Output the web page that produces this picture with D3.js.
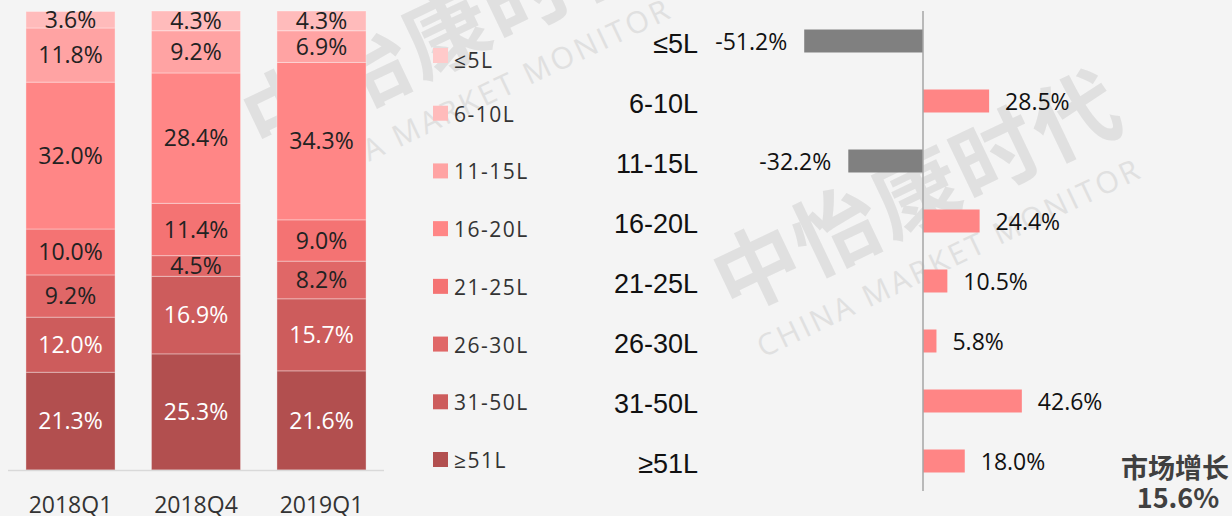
<!DOCTYPE html>
<html>
<head>
  <meta charset="utf-8">
  <title>Segment share and growth</title>
  <script src="https://cdn.jsdelivr.net/npm/d3@7"></script>
  <style>
    body { margin: 0; background: #f4f4f4; }
    svg { display: block; }
    .pct { font: 23px "Open Sans", "Noto Sans CJK SC", sans-serif; }
    .legend text { font: 21px "Open Sans", "Noto Sans CJK SC", sans-serif; fill: #333; letter-spacing: 1.5px; }
    .cat text { font: 27px "Liberation Sans", Arial, sans-serif; fill: #111; }
    .quarter { font: 23px "Open Sans", sans-serif; fill: #333; }
    .total { font: bold 27px "Noto Sans CJK SC", sans-serif; fill: #404040; }
    .wm { font-family: "Noto Sans CJK SC", sans-serif; font-weight: bold; fill: #e0e0e0; }
    .wm-en { font: 30px "Open Sans", sans-serif; fill: #e0e0e0; letter-spacing: 3px; }
  </style>
</head>
<body>
<script>
  var quarters = ["2018Q1", "2018Q4", "2019Q1"];
  var segments = ["≤5L", "6-10L", "11-15L", "16-20L", "21-25L", "26-30L", "31-50L", "≥51L"];
  // share of each segment, top (≤5L) to bottom (≥51L)
  var share2018Q1 = [0, 3.6, 11.8, 32.0, 10.0, 9.2, 12.0, 21.3];
  var share2018Q4 = [0, 4.3, 9.2, 28.4, 11.4, 4.5, 16.9, 25.3];
  var share2019Q1 = [0, 4.3, 6.9, 34.3, 9.0, 8.2, 15.7, 21.6];
  var growth = [-51.2, 28.5, -32.2, 24.4, 10.5, 5.8, 42.6, 18.0];
  var marketGrowth = "15.6%";
  var colors = ["#FFCACA", "#FFBBBB", "#FFA3A3", "#FF8686", "#F47373", "#E06767", "#CD5C5C", "#B24F4F"];

  var W = 1232, H = 516;
  var svg = d3.select("body").append("svg")
      .attr("width", W)
      .attr("height", H);

  var fmt = function (v) { return d3.format(".1f")(v).replace("−", "-") + "%"; };

  // watermark
  function watermark(dx, dy) {
    var g = svg.append("g").attr("transform", "translate(" + dx + "," + dy + ") rotate(-25.5)");
    g.append("text").attr("class", "wm").attr("font-size", 86).attr("x", -40).attr("y", 30)
        .attr("letter-spacing", 2).text("中怡康时代");
    g.append("text").attr("class", "wm-en").attr("x", -30).attr("y", 82).text("CHINA MARKET MONITOR");
  }
  watermark(755, 271);
  watermark(285, 111);

  // ---- stacked share bars ----
  var rows = quarters.map(function (q, i) {
    var vals = [share2018Q1, share2018Q4, share2019Q1][i];
    var r = {quarter: q};
    segments.forEach(function (s, j) { r[s] = vals[j]; });
    return r;
  });

  var x = d3.scaleBand()
      .domain(quarters)
      .range([8, 384])
      .paddingInner(0.29)
      .paddingOuter(0.143);

  var y = d3.scaleLinear()
      .domain([0, 100])
      .range([470, 11]);

  var color = d3.scaleOrdinal().domain(segments).range(colors);

  var stack = d3.stack().keys(segments.slice().reverse());
  var series = stack(rows);

  var layers = svg.append("g").attr("class", "stack")
    .selectAll("g")
    .data(series)
    .join("g")
      .attr("fill", function (d) { return color(d.key); });

  layers.selectAll("rect")
    .data(function (d) { return d.map(function (p) { p.key = d.key; return p; }); })
    .join("rect")
      .attr("x", function (d) { return x(d.data.quarter); })
      .attr("y", function (d) { return y(d[1]); })
      .attr("width", x.bandwidth())
      .attr("height", function (d) { return y(d[0]) - y(d[1]); })
      .attr("stroke", "rgba(255,255,255,0.35)")
      .attr("stroke-width", 1);

  layers.selectAll("text")
    .data(function (d) { return d.filter(function (p) { return p[1] - p[0] > 0; }); })
    .join("text")
      .attr("class", "pct")
      .attr("x", function (d) { return x(d.data.quarter) + x.bandwidth() / 2; })
      .attr("y", function (d) { return (y(d[0]) + y(d[1])) / 2; })
      .attr("dy", "0.36em")
      .attr("text-anchor", "middle")
      .attr("fill", function (d) { return (d.key === "31-50L" || d.key === "≥51L") ? "#fff" : "#222"; })
      .text(function (d) { return fmt(d.data[d.key]); });

  svg.append("line")
      .attr("x1", 8).attr("x2", 384)
      .attr("y1", y(0) + 0.5).attr("y2", y(0) + 0.5)
      .attr("stroke", "#d9d9d9")
      .attr("stroke-width", 1.5);

  svg.append("g").selectAll("text")
    .data(quarters)
    .join("text")
      .attr("class", "quarter")
      .attr("x", function (d) { return x(d) + x.bandwidth() / 2; })
      .attr("y", 513)
      .attr("text-anchor", "middle")
      .text(function (d) { return d; });

  // ---- legend ----
  var legendY = d3.scalePoint().domain(segments).range([48, 452]);
  var legend = svg.append("g").attr("class", "legend")
    .selectAll("g")
    .data(segments)
    .join("g")
      .attr("transform", function (d) { return "translate(433," + legendY(d) + ")"; });
  legend.append("rect")
      .attr("width", 15).attr("height", 15)
      .attr("fill", function (d) { return color(d); });
  legend.append("text")
      .attr("x", 21)
      .attr("y", function (d, i) { return i === 0 ? 20 : 16; })
      .text(function (d) { return d; });

  // ---- growth bars ----
  var gx = d3.scaleLinear()
      .domain([-60, 60])
      .range([923 - 139.2, 923 + 139.2]);

  var gy = d3.scaleBand()
      .domain(segments)
      .range([11, 491])
      .paddingInner(0.617)
      .paddingOuter(0.3085);

  var rowC = function (d) { return gy(d) + gy.bandwidth() / 2; };

  svg.append("g").attr("class", "cat")
    .selectAll("text")
    .data(segments)
    .join("text")
      .attr("x", 698)
      .attr("y", function (d) { return rowC(d) + 2; })
      .attr("dy", "0.36em")
      .attr("text-anchor", "end")
      .text(function (d) { return d; });

  var gdata = segments.map(function (s, i) { return {seg: s, v: growth[i]}; });

  svg.append("g").selectAll("rect")
    .data(gdata)
    .join("rect")
      .attr("x", function (d) { return gx(Math.min(0, d.v)); })
      .attr("y", function (d) { return gy(d.seg); })
      .attr("width", function (d) { return Math.abs(gx(d.v) - gx(0)); })
      .attr("height", gy.bandwidth())
      .attr("fill", function (d) { return d.v < 0 ? "#808080" : "#FF8585"; });

  svg.append("g").selectAll("text")
    .data(gdata)
    .join("text")
      .attr("class", "pct")
      .attr("fill", "#111")
      .attr("x", function (d) { return d.v < 0 ? gx(d.v) - 17 : gx(d.v) + 16; })
      .attr("y", function (d) { return rowC(d.seg) + 1; })
      .attr("dy", "0.36em")
      .attr("text-anchor", function (d) { return d.v < 0 ? "end" : "start"; })
      .text(function (d) { return fmt(d.v); });

  svg.append("line")
      .attr("x1", gx(0)).attr("x2", gx(0))
      .attr("y1", 11).attr("y2", 491)
      .attr("stroke", "#a6a6a6")
      .attr("stroke-width", 1.5);

  svg.append("text").attr("class", "total")
      .attr("x", 1175).attr("y", 478)
      .attr("text-anchor", "middle")
      .text("市场增长");
  svg.append("text").attr("class", "total")
      .attr("x", 1178).attr("y", 508)
      .attr("text-anchor", "middle")
      .text(marketGrowth);
</script>
</body>
</html>
